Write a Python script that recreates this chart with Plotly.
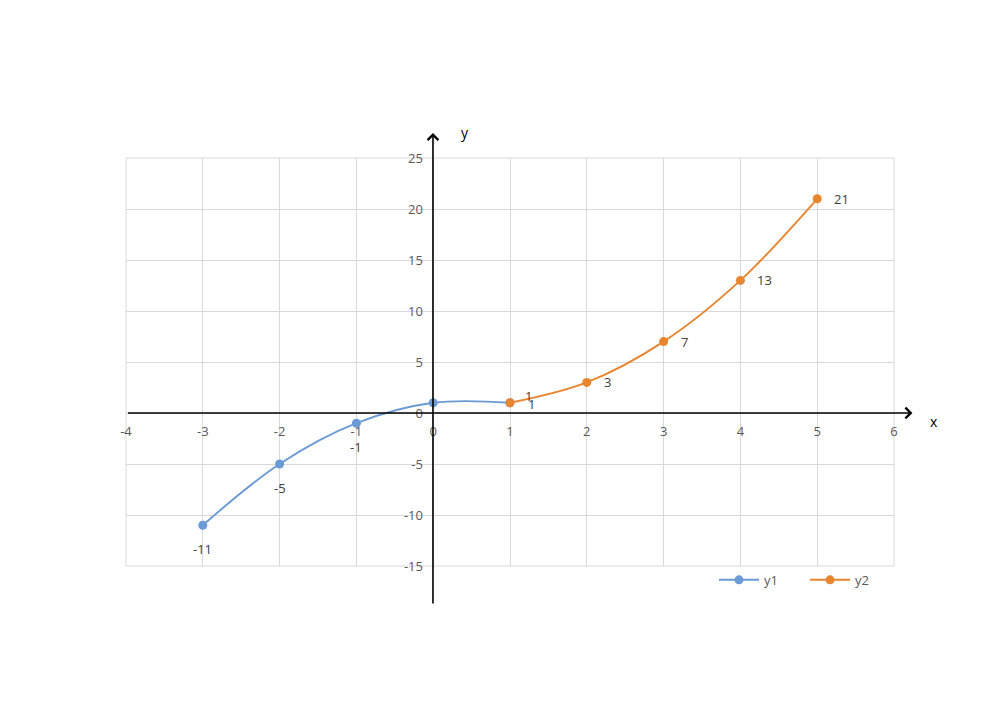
import plotly.graph_objects as go

x1 = [-3, -2, -1, 0, 1]
y1 = [-11, -5, -1, 1, 1]
x2 = [1, 2, 3, 4, 5]
y2 = [1, 3, 7, 13, 21]

y1_text = ["-11", "-5", "-1", "", "1"]
y2_text = ["1", "3", "7", "13", "21"]

xticks = [-4, -3, -2, -1, 0, 1, 2, 3, 4, 5, 6]
yticks = [-15, -10, -5, 0, 5, 10, 15, 20, 25]

blue = "#6A9BD6"
orange = "#E8852F"
FONT = "Open Sans, DejaVu Sans, sans-serif"
tickfont = dict(family=FONT, size=13, color="#595959")
labfont = dict(family=FONT, size=13, color="#404040")

fig = go.Figure()
fig.add_trace(go.Scatter(
    x=x1, y=y1, name="y1", mode="lines+markers",
    line=dict(color=blue, width=1.9, shape="spline", smoothing=1),
    marker=dict(color=blue, size=9), cliponaxis=False,
))
fig.add_trace(go.Scatter(
    x=x2, y=y2, name="y2", mode="lines+markers",
    line=dict(color=orange, width=1.9, shape="spline", smoothing=1),
    marker=dict(color=orange, size=9), cliponaxis=False,
))

# data labels
for i, (xv, yv, t) in enumerate(zip(x1, y1, y1_text)):
    if not t:
        continue
    if i == len(x1) - 1:
        fig.add_annotation(x=xv, y=yv, text=t, showarrow=False, xanchor="left",
                           xshift=16, yshift=-1, font=labfont)
    else:
        fig.add_annotation(x=xv, y=yv, text=t, showarrow=False,
                           yshift=-24, font=labfont)
for i, (xv, yv, t) in enumerate(zip(x2, y2, y2_text)):
    fig.add_annotation(x=xv, y=yv, text=t, showarrow=False, xanchor="left",
                       xshift=(13 if i == 0 else 15), yshift=(7 if i == 0 else 0), font=labfont)

# axis arrows (paper coords)
fig.add_annotation(x=(6.24 + 4) / 10, y=0.375, xref="paper", yref="paper",
                   ax=-786, ay=0, axref="pixel", ayref="pixel",
                   text="", showarrow=True, arrowhead=4, arrowsize=1.3, arrowwidth=1.6,
                   arrowcolor="black", standoff=0)
fig.add_annotation(x=0.3997, y=(27.45 + 15) / 40, xref="paper", yref="paper",
                   ax=0, ay=472, axref="pixel", ayref="pixel",
                   text="", showarrow=True, arrowhead=4, arrowsize=1.3, arrowwidth=1.6,
                   arrowcolor="black", standoff=0)
fig.add_annotation(x=(940 - 126) / 768, y=(566 - 421) / 408, xref="paper", yref="paper",
                   text="x", showarrow=False, font=dict(family=FONT, size=14, color="black"))
fig.add_annotation(x=(465 - 126) / 768, y=(566 - 121) / 408, xref="paper", yref="paper",
                   text="y", showarrow=False, font=dict(family=FONT, size=14, color="black"))

# plot-area border grid edges
fig.add_shape(type="rect", xref="paper", yref="paper", x0=0, x1=1, y0=0, y1=1,
              line=dict(color="#D9D9D9", width=1), layer="below")

fig.update_layout(
    width=984, height=688,
    margin=dict(l=118, r=98, t=150, b=130, autoexpand=False),
    paper_bgcolor="white", plot_bgcolor="white",
    showlegend=True,
    legend=dict(orientation="h", x=(714 - 126) / 768, y=-0.034, xanchor="left", yanchor="middle",
                font=dict(family=FONT, size=13, color="#595959"),
                entrywidth=36, entrywidthmode="pixels", itemwidth=40,
                bgcolor="rgba(0,0,0,0)"),
    xaxis=dict(range=[-4, 6], tickvals=xticks, ticktext=[str(v) for v in xticks],
               showgrid=True, gridcolor="#D9D9D9", gridwidth=1, zeroline=False,
               showline=False, ticks="", tickfont=tickfont, ticklabelstandoff=9,
               anchor="free", position=0.375),
    yaxis=dict(range=[-15, 25], tickvals=yticks, ticktext=[str(v) for v in yticks],
               showgrid=True, gridcolor="#D9D9D9", gridwidth=1, zeroline=False,
               showline=False, ticks="", tickfont=tickfont, ticklabelstandoff=10,
               anchor="free", position=0.3997),
)

fig.write_html("out.html")
